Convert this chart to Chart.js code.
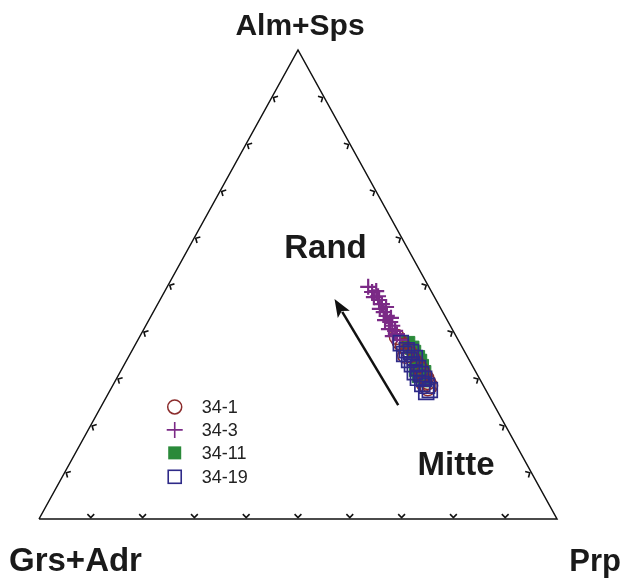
<!DOCTYPE html>
<html>
<head>
<meta charset="utf-8">
<script src="https://cdn.jsdelivr.net/npm/chart.js@4/dist/chart.umd.min.js"></script>
<style>
  html, body { margin: 0; padding: 0; background: #ffffff; }
  #wrap { width: 626px; height: 584px; }
</style>
</head>
<body>
<div id="wrap"><canvas id="c" width="626" height="584"></canvas></div>
<script>
// Garnet end-member proportions (mol %), one set per sample
const apexLabels = ['Alm+Sps', 'Grs+Adr', 'Prp'];
const zoneLabels = ['Rand', 'Mitte'];
const seriesNames = ['34-1', '34-3', '34-11', '34-19'];
const tickValues = [10, 20, 30, 40, 50, 60, 70, 80, 90];

// 34-1
const alm34_1 = [38.8, 37.7, 36.9, 36.0, 35.0, 34.8, 33.9, 32.8, 31.8, 30.9, 30.1, 29.2, 28.4, 27.9, 28.8];
const prp34_1 = [49.7, 50.8, 51.8, 53.2, 54.3, 53.3, 55.4, 56.8, 57.9, 58.7, 59.7, 60.5, 61.3, 61.1, 59.9];
const grs34_1 = [11.5, 11.5, 11.3, 10.8, 10.7, 11.9, 10.7, 10.4, 10.3, 10.4, 10.2, 10.3, 10.3, 11.0, 11.3];

// 34-3
const alm34_3 = [49.5, 48.4, 48.6, 47.3, 46.7, 45.8, 44.8, 44.1, 43.3, 42.4, 42.0, 41.2, 40.5, 40.1, 39.4, 39.0, 38.2, 47.5, 45.2, 42.9];
const prp34_3 = [38.8, 40.1, 40.8, 41.0, 42.3, 43.3, 43.4, 44.5, 45.5, 45.6, 46.8, 47.6, 47.3, 48.7, 49.4, 48.8, 50.6, 41.7, 44.4, 46.5];
const grs34_3 = [11.7, 11.5, 10.6, 11.7, 11.0, 10.9, 11.8, 11.4, 11.2, 12.0, 11.2, 11.2, 12.2, 11.2, 11.2, 12.2, 11.2, 10.8, 10.4, 10.6];

// 34-11
const alm34_11 = [37.5, 36.5, 35.6, 34.5, 33.7, 32.6, 31.8, 31.3, 30.5, 29.6];
const prp34_11 = [52.5, 53.8, 54.6, 55.9, 56.7, 57.6, 56.9, 58.7, 58.1, 59.7];
const grs34_11 = [10.0, 9.7, 9.8, 9.6, 9.6, 9.8, 11.3, 10.0, 11.4, 10.7];

// 34-19
const alm34_19 = [37.5, 36.0, 35.2, 35.6, 33.9, 34.3, 33.0, 32.2, 31.3, 30.9, 30.1, 29.9, 28.8, 28.4, 27.5, 27.1];
const prp34_19 = [51.1, 53.0, 52.9, 54.0, 54.5, 55.4, 55.5, 57.1, 56.9, 58.3, 58.1, 59.4, 59.6, 60.7, 61.7, 61.2];
const grs34_19 = [11.4, 11.0, 11.9, 10.4, 11.6, 10.3, 11.5, 10.7, 11.8, 10.8, 11.8, 10.7, 11.6, 10.9, 10.8, 11.7];

// Core-to-rim growth arrow, as (Alm+Sps, Prp, Grs+Adr) start and end
const arrowFrom = [24.3, 57.2, 18.5];
const arrowTo = [46.9, 33.6, 19.5];

// Ternary (top, right, left) -> plane: x runs 0..100 along the base, y 0..100 up to the apex
function toXY(top, right, left) {
  const s = top + right + left;
  const t = top / s * 100, r = right / s * 100;
  return { x: r + t / 2, y: t };
}
function series(alm, prp, grs) {
  return alm.map((a, i) => toXY(a, prp[i], grs[i]));
}

const FONT = '"Liberation Sans", Arial, Helvetica, sans-serif';
const styles = {
  '34-1':  { pointStyle: 'circle', color: '#8b2c2c', fill: false, radius: 7.5, width: 1.5 },
  '34-3':  { pointStyle: 'cross',  color: '#7b2a86', fill: false, radius: 8, width: 2.2 },
  '34-11': { pointStyle: 'rect',   color: '#2a8a3a', fill: true,  radius: 9.5, width: 1 },
  '34-19': { pointStyle: 'rect',   color: '#2e2a88', fill: false, radius: 10.5, width: 1.7 }
};

function pointSet(name, data, order) {
  const s = styles[name];
  return {
    label: name,
    type: 'scatter',
    data: data,
    order: order,
    pointStyle: s.pointStyle,
    pointRadius: s.radius,
    pointHoverRadius: s.radius,
    pointBorderWidth: s.width,
    borderColor: s.color,
    backgroundColor: s.fill ? s.color : 'rgba(0,0,0,0)',
    clip: false
  };
}

const frame = [toXY(0, 0, 100), toXY(0, 100, 0), toXY(100, 0, 0), toXY(0, 0, 100)];

const ternaryDecor = {
  id: 'ternaryDecor',
  beforeDatasetsDraw(chart) {
    const ctx = chart.ctx, xs = chart.scales.x, ys = chart.scales.y;
    const P = (p) => ({ x: xs.getPixelForValue(p.x), y: ys.getPixelForValue(p.y) });
    const A = P(toXY(100, 0, 0)), L = P(toXY(0, 0, 100)), R = P(toXY(0, 100, 0));
    const cx = (A.x + L.x + R.x) / 3, cy = (A.y + L.y + R.y) / 3;
    ctx.save();
    ctx.strokeStyle = '#111';
    ctx.lineWidth = 1.6;
    ctx.lineCap = 'butt';
    // small chevron ticks on every side, pointing outward
    const edges = [[L, R], [R, A], [A, L]];
    edges.forEach(([p0, p1]) => {
      let ex = p1.x - p0.x, ey = p1.y - p0.y;
      const el = Math.hypot(ex, ey); ex /= el; ey /= el;
      tickValues.forEach(v => {
        const f = v / 100;
        const px = p0.x + (p1.x - p0.x) * f, py = p0.y + (p1.y - p0.y) * f;
        let inx = -ey, iny = ex;
        if (inx * (cx - px) + iny * (cy - py) < 0) { inx = -inx; iny = -iny; }
        const vx = px + inx * 1.5, vy = py + iny * 1.5;
        const len = 3.4;
        ctx.beginPath();
        ctx.moveTo(vx + (inx + ex) * len, vy + (iny + ey) * len);
        ctx.lineTo(vx, vy);
        ctx.lineTo(vx + (inx - ex) * len, vy + (iny - ey) * len);
        ctx.stroke();
      });
    });
    ctx.restore();
  },
  afterDatasetsDraw(chart) {
    const ctx = chart.ctx, xs = chart.scales.x, ys = chart.scales.y;
    const P = (p) => ({ x: xs.getPixelForValue(p.x), y: ys.getPixelForValue(p.y) });
    ctx.save();

    // growth arrow
    const a0 = P(toXY(...arrowFrom)), a1 = P(toXY(...arrowTo));
    const ang = Math.atan2(a1.y - a0.y, a1.x - a0.x);
    const headLen = 18, headW = 7;
    const bx = a1.x - Math.cos(ang) * headLen, by = a1.y - Math.sin(ang) * headLen;
    ctx.strokeStyle = '#111';
    ctx.fillStyle = '#111';
    ctx.lineWidth = 2.5;
    ctx.beginPath();
    ctx.moveTo(a0.x, a0.y);
    ctx.lineTo(bx + Math.cos(ang) * 3, by + Math.sin(ang) * 3);
    ctx.stroke();
    ctx.beginPath();
    ctx.moveTo(a1.x, a1.y);
    ctx.lineTo(bx + Math.sin(ang) * headW, by - Math.cos(ang) * headW);
    ctx.lineTo(bx + Math.cos(ang) * 4, by + Math.sin(ang) * 4);
    ctx.lineTo(bx - Math.sin(ang) * headW, by + Math.cos(ang) * headW);
    ctx.closePath();
    ctx.fill();

    // apex labels
    const area = chart.chartArea;
    const A = P(toXY(100, 0, 0));
    ctx.fillStyle = '#1a1a1a';
    ctx.textBaseline = 'alphabetic';
    ctx.font = 'bold 30px ' + FONT;
    ctx.textAlign = 'center';
    ctx.fillText(apexLabels[0], A.x + 2, A.y - 15);
    ctx.font = 'bold 33px ' + FONT;
    ctx.textAlign = 'left';
    ctx.fillText(apexLabels[1], 9, area.bottom + 52);
    ctx.font = 'bold 31px ' + FONT;
    ctx.textAlign = 'right';
    ctx.fillText(apexLabels[2], 621, area.bottom + 52);

    // zone labels
    ctx.font = 'bold 33px ' + FONT;
    ctx.textAlign = 'center';
    ctx.textBaseline = 'middle';
    const rand = P({ x: 55.3, y: 57.6 }), mitte = P({ x: 80.5, y: 11.4 });
    ctx.fillText(zoneLabels[0], rand.x, rand.y);
    ctx.fillText(zoneLabels[1], mitte.x, mitte.y);

    // legend
    const lx = xs.getPixelForValue(26.2);
    const rows = [23.9, 19.0, 14.1, 9.0];
    ctx.font = '18px ' + FONT;
    ctx.textAlign = 'left';
    seriesNames.forEach((name, i) => {
      const s = styles[name];
      const y = ys.getPixelForValue(rows[i]);
      ctx.strokeStyle = s.color;
      ctx.fillStyle = s.color;
      ctx.lineWidth = Math.min(s.width, 1.6);
      ctx.beginPath();
      if (s.pointStyle === 'circle') {
        ctx.arc(lx, y, 7, 0, Math.PI * 2);
        ctx.stroke();
      } else if (s.pointStyle === 'cross') {
        ctx.moveTo(lx - 8, y); ctx.lineTo(lx + 8, y);
        ctx.moveTo(lx, y - 8); ctx.lineTo(lx, y + 8);
        ctx.stroke();
      } else if (s.fill) {
        ctx.fillRect(lx - 6.5, y - 6.5, 13, 13);
      } else {
        ctx.strokeRect(lx - 6.5, y - 6.5, 13, 13);
      }
      ctx.fillStyle = '#222';
      ctx.fillText(name, lx + 27, y + 1);
    });
    ctx.restore();
  }
};

new Chart(document.getElementById('c'), {
  type: 'scatter',
  data: {
    datasets: [
      pointSet('34-19', series(alm34_19, prp34_19, grs34_19), 0),
      pointSet('34-3', series(alm34_3, prp34_3, grs34_3), 1),
      pointSet('34-1', series(alm34_1, prp34_1, grs34_1), 2),
      pointSet('34-11', series(alm34_11, prp34_11, grs34_11), 3),
      {
        label: 'frame',
        type: 'line',
        data: frame,
        order: 10,
        showLine: true,
        borderColor: '#111',
        borderWidth: 1.5,
        pointRadius: 0,
        fill: false,
        tension: 0,
        clip: false
      }
    ]
  },
  options: {
    responsive: false,
    animation: false,
    devicePixelRatio: 1,
    layout: { padding: { left: 39, right: 69, top: 50, bottom: 65 } },
    scales: {
      x: { type: 'linear', min: 0, max: 100, display: false },
      y: { type: 'linear', min: 0, max: 100, display: false }
    },
    plugins: {
      legend: { display: false },
      tooltip: { enabled: false }
    }
  },
  plugins: [ternaryDecor]
});
</script>
</body>
</html>
